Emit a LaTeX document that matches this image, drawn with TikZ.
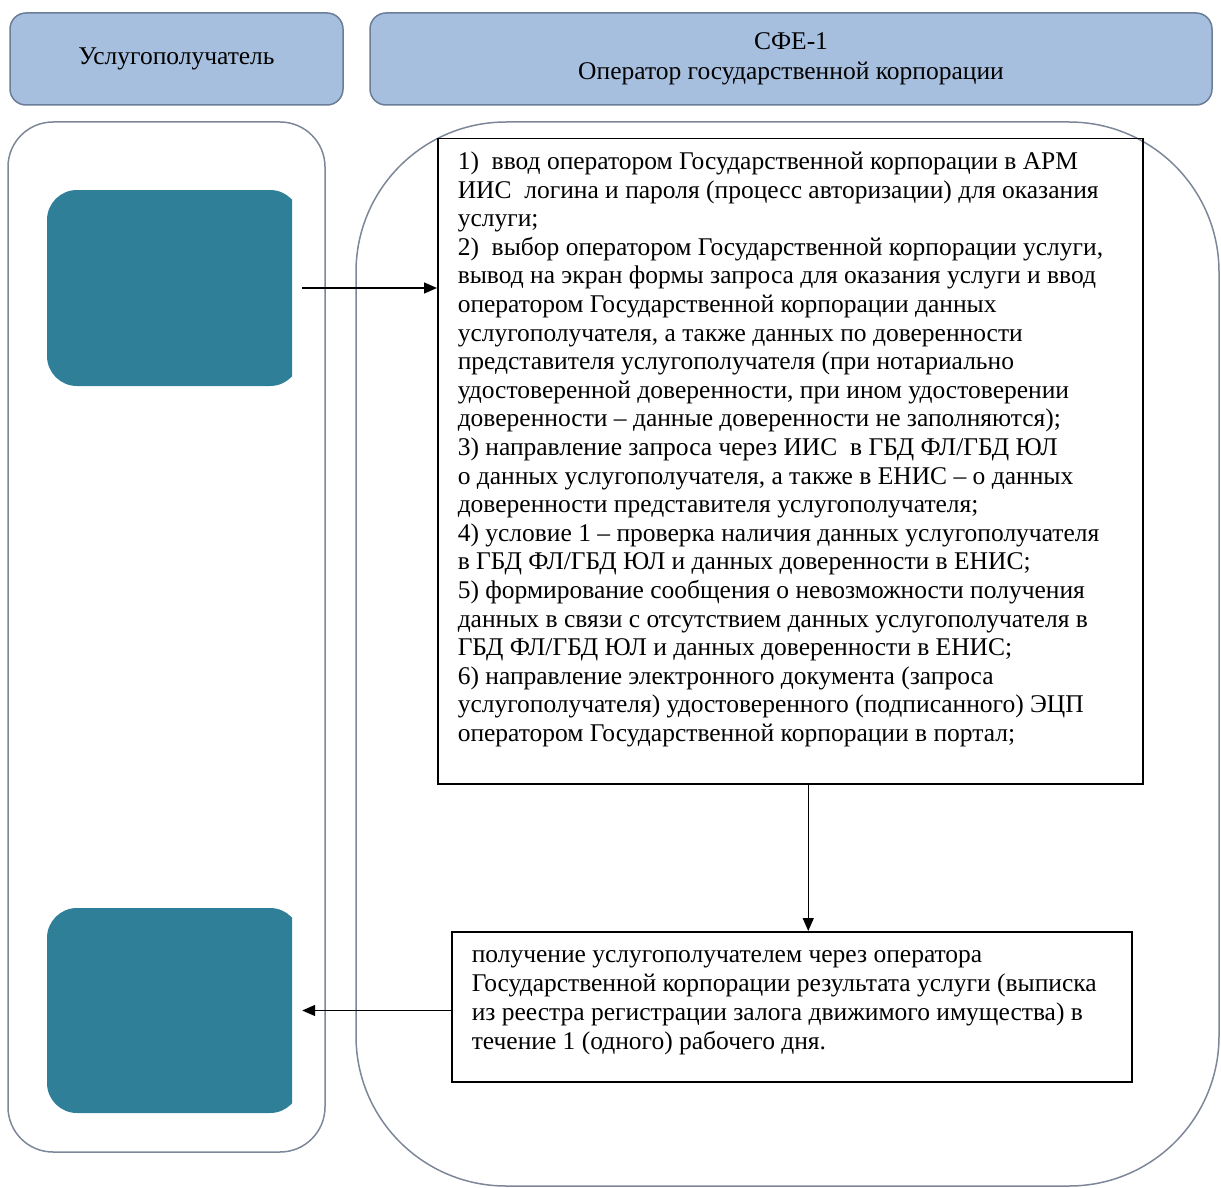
\documentclass[tikz,border=0pt]{standalone}
\usepackage{fontspec}
\setmainfont{Liberation Serif}
\usetikzlibrary{arrows.meta}
\definecolor{hdrblue}{HTML}{A7BFDE}
\definecolor{hdrline}{HTML}{6B7D97}
\definecolor{laneline}{HTML}{7D8799}
\definecolor{vteal}{HTML}{2F7F98}

\begin{document}
\begin{tikzpicture}[x=1pt, y=-1pt,
		header/.style={draw=hdrline, fill=hdrblue, rounded corners=16pt, line width=1.5pt, align=center, inner sep=0pt, font=\fontsize{25.5}{30}\selectfont},
		lane/.style={draw=laneline, line width=1.5pt},
		tealbox/.style={fill=vteal, rounded corners=30pt, inner sep=0pt},
		stepbox/.style={draw=black, line width=1.5pt, inner xsep=20pt, anchor=north west},
		flow/.style={black, line width=1.5pt, -{Triangle[length=13pt,width=11pt]}}]
		\useasboundingbox (0,0) rectangle (1221,1188);
		\node[header, minimum width=333pt, minimum height=92pt] (client) at (176.5,59) {Услугополучатель};
		\node[header, minimum width=842pt, minimum height=92pt] (sfe) at (791,59) {СФЕ-1\\Оператор государственной корпорации};
		\draw[lane, rounded corners=45pt] (8,122) rectangle (325,1152);
		\draw[lane, rounded corners=150pt] (356,122) rectangle (1219,1186);
		\begin{scope}
			\clip (0,0) rectangle (292,1188);
			\node[tealbox, minimum width=253pt, minimum height=196pt] (applicant) at (173.5,288) {};
			\node[tealbox, minimum width=253pt, minimum height=205pt] (result) at (173.5,1010.5) {};
		\end{scope}
		\node[stepbox, inner ysep=13pt] (intake) at (437,138) {\parbox[t][619pt][t]{665pt}{\fontsize{25.5}{28.6}\selectfont\raggedright
			1)\ \ ввод оператором Государственной корпорации в АРМ\\
			ИИС\ \ логина и пароля (процесс авторизации) для оказания\\
			услуги;\\
			2)\ \ выбор оператором Государственной корпорации услуги,\\
			вывод на экран формы запроса для оказания услуги и ввод\\
			оператором Государственной корпорации данных\\
			услугополучателя, а также данных по доверенности\\
			представителя услугополучателя (при нотариально\\
			удостоверенной доверенности, при ином удостоверении\\
			доверенности – данные доверенности не заполняются);\\
			3) направление запроса через ИИС\ \ в ГБД ФЛ/ГБД ЮЛ\\
			о данных услугополучателя, а также в ЕНИС – о данных\\
			доверенности представителя услугополучателя;\\
			4) условие 1 – проверка наличия данных услугополучателя\\
			в ГБД ФЛ/ГБД ЮЛ и данных доверенности в ЕНИС;\\
			5) формирование сообщения о невозможности получения\\
			данных в связи с отсутствием данных услугополучателя в\\
			ГБД ФЛ/ГБД ЮЛ и данных доверенности в ЕНИС;\\
			6) направление электронного документа (запроса\\
			услугополучателя) удостоверенного (подписанного) ЭЦП\\
			оператором Государственной корпорации в портал;}};
		\node[stepbox, inner ysep=19pt] (issue) at (451,931) {\parbox[t][112pt][t]{640pt}{\fontsize{25.5}{29}\selectfont\raggedright
			получение услугополучателем через оператора\\
			Государственной корпорации результата услуги (выписка\\
			из реестра регистрации залога движимого имущества) в\\
			течение 1 (одного) рабочего дня.}};
		\draw[flow] ([xshift=2pt]applicant.east) -- (applicant.east -| intake.west);
		\draw[flow] ([xshift=18pt]intake.south) -- ([xshift=18pt]intake.south |- issue.north);
		\draw[flow] (issue.west |- result.east) -- ([xshift=2pt]result.east);
	\end{tikzpicture}
\end{document}
